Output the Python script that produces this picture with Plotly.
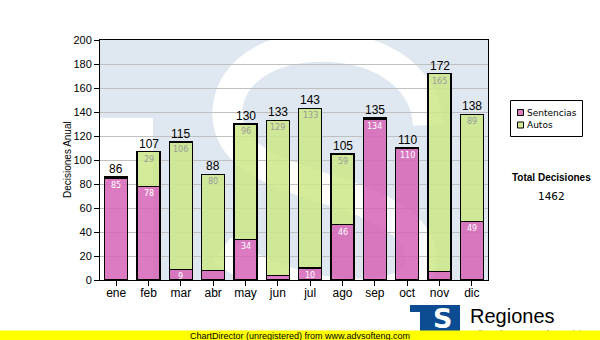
import plotly.graph_objects as go

# Monthly decisions, split by type
months = ["ene", "feb", "mar", "abr", "may", "jun", "jul", "ago", "sep", "oct", "nov", "dic"]
sentencias = [85, 78, 9, 8, 34, 4, 10, 46, 134, 110, 7, 49]
autos = [1, 29, 106, 80, 96, 129, 133, 59, 1, 0, 165, 89]
series_names = ["Sentencias", "Autos"]
y_ticks = list(range(0, 201, 20))

totals = [s + a for s, a in zip(sentencias, autos)]
total_decisiones = sum(totals)

PINK = "rgba(214,100,182,0.85)"
GREEN = "rgba(205,231,135,0.85)"
PINK_SW = "#de7cc0"
GREEN_SW = "#d4ea98"
WASH = "#dfe8f1"
LOGO_BLUE = "#0b4c92"

W, H = 600, 340
L, R, T, B = 100, 112, 40, 60
PW, PH = W - L - R, H - T - B
XMIN, XMAX = -0.5, len(months) - 0.5
YMAX = y_ticks[-1]
x_idx = list(range(len(months)))


def dx(px):
    return XMIN + (px - L) / PW * (XMAX - XMIN)


def dy(py):
    return (T + PH - py) / PH * YMAX


def fx(px):
    return (px - L) / PW


def fy(py):
    return (T + PH - py) / PH


def paper_text(px, py, text, family, size, color="black", xanchor="center", **kw):
    return dict(x=fx(px), y=fy(py), xref="paper", yref="paper", text=text, showarrow=False,
                xanchor=xanchor, yanchor="middle",
                font=dict(family=family, size=size, color=color), **kw)


fig = go.Figure()
fig.add_bar(x=x_idx, y=sentencias, name=series_names[0], width=0.71,
            marker=dict(color=PINK, line=dict(color="black", width=1.3)))
fig.add_bar(x=x_idx, y=autos, name=series_names[1], width=0.71,
            marker=dict(color=GREEN, line=dict(color="black", width=1.3)))

shapes = []
annotations = []

# watermark: light wash, white notch and a broad white "S" stroke
shapes.append(dict(type="rect", xref="x", yref="y", x0=dx(L), x1=dx(L + PW), y0=0, y1=YMAX,
                   fillcolor=WASH, line_width=0, layer="below"))
shapes.append(dict(type="rect", xref="x", yref="y", x0=dx(L), x1=dx(153), y0=0, y1=dy(118),
                   fillcolor="white", line_width=0, layer="below"))
s_pts = [(428, 125),
         (425, 70), (370, 45), (315, 47),
         (260, 49), (222, 80), (228, 122),
         (234, 165), (300, 180), (345, 195),
         (395, 212), (428, 235), (420, 268),
         (410, 305), (300, 305), (222, 250)]
p = "M %.4f,%.4f" % (dx(s_pts[0][0]), dy(s_pts[0][1]))
for k in range(1, len(s_pts), 3):
    seg = s_pts[k:k + 3]
    p += " C " + " ".join("%.4f,%.4f" % (dx(a), dy(b)) for a, b in seg)
shapes.append(dict(type="path", xref="x", yref="y", path=p, fillcolor="rgba(0,0,0,0)",
                   line=dict(color="white", width=30), layer="below"))

# totals above bars
for i, t in enumerate(totals):
    annotations.append(dict(x=i, y=t, xref="x", yref="y", text=str(t), showarrow=False,
                            xanchor="center", yanchor="bottom", yshift=-1,
                            font=dict(family="Liberation Sans", size=12, color="black")))
# segment values inside the bars
for i, (s, a) in enumerate(zip(sentencias, autos)):
    if s >= 9:
        annotations.append(dict(x=i, y=s, xref="x", yref="y", text=str(s), showarrow=False,
                                xanchor="center", yanchor="top", yshift=-1,
                                font=dict(family="DejaVu Sans", size=8, color="white")))
    if a >= 9:
        annotations.append(dict(x=i, y=s + a, xref="x", yref="y", text=str(a), showarrow=False,
                                xanchor="center", yanchor="top", yshift=-1,
                                font=dict(family="DejaVu Sans", size=8, color="#9a9a9a")))

# y axis title
annotations.append(paper_text(67, 160, "Decisiones Anual", "Liberation Sans", 10, textangle=-90))

# legend box
shapes.append(dict(type="rect", xref="paper", yref="paper", x0=fx(510.5), x1=fx(582.5),
                   y0=fy(136.5), y1=fy(100.5), fillcolor="white", line=dict(color="black", width=1)))
for name, col, cy in [(series_names[0], PINK_SW, 112.5), (series_names[1], GREEN_SW, 125)]:
    shapes.append(dict(type="rect", xref="paper", yref="paper", x0=fx(517.5), x1=fx(523.5),
                       y0=fy(cy + 3), y1=fy(cy - 3), fillcolor=col, line=dict(color="black", width=1)))
    annotations.append(paper_text(525, cy, name, "DejaVu Sans", 9, xanchor="left"))

annotations.append(paper_text(551, 177.5, "<b>Total Decisiones</b>", "Liberation Sans", 10))
annotations.append(paper_text(551, 196, str(total_decisiones), "DejaVu Sans", 10.5))

# footer logo
shapes.append(dict(type="rect", xref="paper", yref="paper", x0=fx(410), x1=fx(460),
                   y0=fy(340), y1=fy(305), fillcolor=LOGO_BLUE, line_width=0))
shapes.append(dict(type="rect", xref="paper", yref="paper", x0=fx(410), x1=fx(420),
                   y0=fy(340), y1=fy(312), fillcolor="white", line_width=0))
annotations.append(paper_text(442, 318, "<b>S</b>", "DejaVu Sans", 27, color="white"))
annotations.append(paper_text(468, 316, "Regiones", "Liberation Sans", 20, xanchor="left"))
annotations.append(paper_text(468, 334, "Tribunal Supremo de Justicia", "Liberation Sans", 9,
                              xanchor="left"))
# yellow strip
annotations.append(paper_text(300, 335.5, " ", "Liberation Sans", 6, width=600, height=9,
                              bgcolor="#ffff00", borderpad=0))
annotations.append(paper_text(300, 335.5, "ChartDirector (unregistered) from www.advsofteng.com",
                              "Liberation Sans", 9))

fig.update_layout(
    width=W, height=H,
    margin=dict(l=L, r=R, t=T, b=B, pad=0),
    paper_bgcolor="white", plot_bgcolor="white",
    barmode="stack", bargap=0.29, showlegend=False,
    shapes=shapes, annotations=annotations,
    xaxis=dict(range=[XMIN, XMAX], tickvals=x_idx, ticktext=months, ticks="outside", ticklen=5,
               tickcolor="black", showline=True, linecolor="black", linewidth=1, mirror=True,
               showgrid=False, zeroline=False, ticklabelstandoff=-3,
               tickfont=dict(family="Liberation Sans", size=12, color="black")),
    yaxis=dict(range=[0, YMAX], tickvals=y_ticks, ticks="outside", ticklen=5, tickcolor="black",
               showline=True, linecolor="black", linewidth=1, mirror=True,
               showgrid=True, gridcolor="#c0c0c0", gridwidth=1, zeroline=False,
               tickfont=dict(family="Liberation Sans", size=11, color="black")),
)

fig.write_html("out.html")
